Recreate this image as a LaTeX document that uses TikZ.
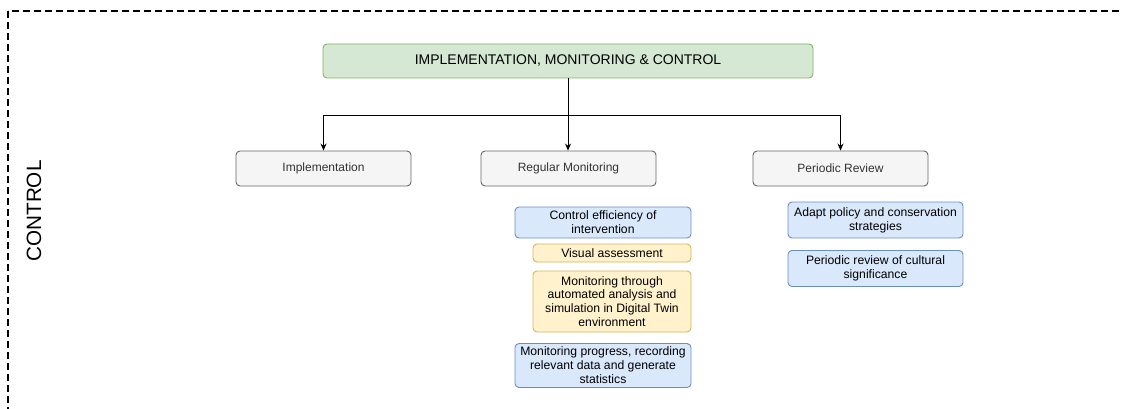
\documentclass[tikz,border=0pt]{standalone}
\usepackage{fontspec}
\setmainfont{Liberation Sans}
\usepackage{xcolor}
\usetikzlibrary{arrows.meta,positioning}
\definecolor{greenfill}{HTML}{D5E8D4}
\definecolor{greenline}{HTML}{82B366}
\definecolor{greyfill}{HTML}{F5F5F5}
\definecolor{greyline}{HTML}{666666}
\definecolor{greytext}{HTML}{333333}
\definecolor{bluefill}{HTML}{DAE8FC}
\definecolor{blueline}{HTML}{6C8EBF}
\definecolor{yellowfill}{HTML}{FFF2CC}
\definecolor{yellowline}{HTML}{D6B656}
\tikzset{
  box/.style={draw, rounded corners=4pt, line width=0.9pt, align=center, inner sep=0pt},
  headbox/.style={box, draw=greenline, fill=greenfill, minimum width=490pt, minimum height=34pt,
    font=\fontsize{14}{17}\selectfont},
  phasebox/.style={box, draw=greyline, fill=greyfill, text=greytext, minimum width=175pt,
    minimum height=35pt, font=\fontsize{12}{14}\selectfont},
  taskbox/.style={box, font=\fontsize{12.2}{13.9}\selectfont},
  bluebox/.style={taskbox, draw=blueline, fill=bluefill},
  yellowbox/.style={taskbox, draw=yellowline, fill=yellowfill},
  arr/.style={-{Stealth[length=7pt,width=6pt]}, line width=0.9pt}
}
\begin{document}
\begin{tikzpicture}[x=1pt,y=-1pt]
  \useasboundingbox (0,0) rectangle (1121,409);
  \clip (0,0) rectangle (1121,409);
  \draw[line width=1.2pt, dash pattern=on 7pt off 4pt] (8,11) rectangle (1140,430);
  \node[rotate=90, font=\fontsize{20.7}{24}\selectfont] (control) at (34,211) {CONTROL};

  \node[headbox] (head) at (568,61) {IMPLEMENTATION, MONITORING \& CONTROL};

  \node[phasebox] (impl) at (323.5,168.5) {Implementation};
  \node[phasebox] (mon) at (568.5,168.5) {Regular Monitoring};
  \node[phasebox] (rev) at (840.5,168.5) {Periodic Review};

  \coordinate (split) at (568,115);
  \draw[arr] (head.south) -- (head.south |- mon.north);
  \draw[arr] (split) -| (impl.north);
  \draw[arr] (split) -| (rev.north);

  % monitoring tasks
  \node[bluebox, minimum width=176pt, minimum height=31pt] (eff) at (603,222.5)
    {Control efficiency of\\intervention};
  \node[yellowbox, minimum width=158pt, minimum height=18pt] (visual) at (612,253)
    {Visual assessment};
  \node[yellowbox, minimum width=158pt, minimum height=61pt] (twin) at (612,301.5)
    {Monitoring through\\automated analysis and\\simulation in Digital Twin\\environment};
  \node[bluebox, minimum width=176pt, minimum height=44pt] (progress) at (603,365.5)
    {Monitoring progress, recording\\relevant data and generate\\statistics};

  % review tasks
  \node[bluebox, minimum width=175pt, minimum height=36pt] (adapt) at (875.5,220)
    {Adapt policy and conservation\\strategies};
  \node[bluebox, minimum width=175pt, minimum height=36pt] (signif) at (875.5,268.5)
    {Periodic review of cultural\\significance};
\end{tikzpicture}
\end{document}
